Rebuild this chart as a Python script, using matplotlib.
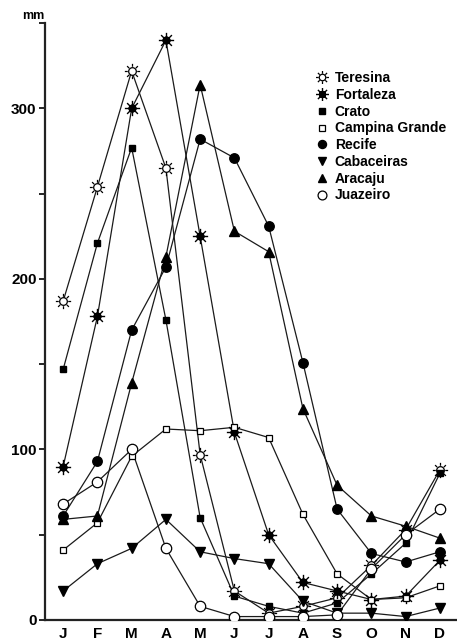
import numpy as np
import matplotlib
matplotlib.use("Agg")
import matplotlib.pyplot as plt
from matplotlib.path import Path
from matplotlib.lines import Line2D

plt.rcParams['font.family'] = ['Liberation Sans', 'DejaVu Sans']

# monthly rainfall (mm)
months = ['J', 'F', 'M', 'A', 'M', 'J', 'J', 'A', 'S', 'O', 'N', 'D']
teresina = [187, 254, 322, 265, 97, 17, 4, 8, 13, 32, 53, 88]
fortaleza = [90, 178, 300, 340, 225, 110, 50, 22, 17, 12, 14, 35]
crato = [147, 221, 277, 176, 60, 14, 8, 4, 10, 27, 45, 86]
campina = [41, 57, 96, 112, 111, 113, 107, 62, 27, 12, 13, 20]
recife = [61, 93, 170, 207, 282, 271, 231, 151, 65, 39, 34, 40]
cabaceiras = [17, 33, 42, 59, 40, 36, 33, 11, 4, 4, 2, 7]
aracaju = [59, 61, 139, 213, 314, 228, 216, 124, 79, 61, 55, 48]
juazeiro = [68, 81, 100, 42, 8, 2, 2, 2, 3, 30, 50, 65]


def rays(r0, r1, n=8):
    segs = []
    for a in np.linspace(0, 2 * np.pi, n, endpoint=False):
        segs.append(Path([(r0 * np.cos(a), r0 * np.sin(a)),
                          (r1 * np.cos(a), r1 * np.sin(a))],
                         [Path.MOVETO, Path.LINETO]))
    return segs


sun = Path.make_compound_path(Path.circle((0, 0), 0.5), *rays(0.62, 1.0))
star = Path.make_compound_path(Path.circle((0, 0), 0.45), *rays(0.0, 1.0))

series = [
    ("Teresina", teresina, dict(marker=sun, ms=11, mfc='white', mec='black', mew=0.9)),
    ("Fortaleza", fortaleza, dict(marker=star, ms=11, mfc='black', mec='black', mew=1.0)),
    ("Crato", crato, dict(marker='s', ms=4.5, mfc='black', mec='black')),
    ("Campina Grande", campina, dict(marker='s', ms=5, mfc='white', mec='black', mew=0.9)),
    ("Recife", recife, dict(marker='o', ms=6.8, mfc='black', mec='black')),
    ("Cabaceiras", cabaceiras, dict(marker='v', ms=7, mfc='black', mec='black')),
    ("Aracaju", aracaju, dict(marker='^', ms=7, mfc='black', mec='black')),
    ("Juazeiro", juazeiro, dict(marker='o', ms=7.5, mfc='white', mec='black', mew=0.9)),
]

fig = plt.figure(figsize=(4.57, 6.41), dpi=100)
ax = fig.add_axes([0.0985, 0.0328, 0.9015, 0.931])
x = np.arange(len(months))

for name, vals, st in series:
    ax.plot(x, vals, color='#1a1a1a', lw=0.9, zorder=2)
for name, vals, st in series:
    ax.plot(x, vals, ls='none', zorder=3, **st)

ax.set_xlim(-0.53, 11.5)
ax.set_ylim(0, 350)
for s in ['top', 'right']:
    ax.spines[s].set_visible(False)
for s in ['left', 'bottom']:
    ax.spines[s].set_linewidth(1.6)
    ax.spines[s].set_color('#222222')

ax.set_xticks(x)
ax.set_xticklabels(months, fontsize=11, fontweight='bold')
ax.tick_params(axis='x', length=0, pad=5)
ax.set_yticks([0, 100, 200, 300])
ax.set_yticks([50, 150, 250, 350], minor=True)
ax.set_yticklabels(['0', '100', '200', '300'], fontsize=11, fontweight='bold')
ax.tick_params(axis='y', which='both', direction='out', length=4, width=1.2, pad=2)

fig.text(0.098, 0.975, "mm", ha='right', va='center', fontsize=9, fontweight='bold')

handles = [Line2D([], [], ls='none', **st) for name, vals, st in series]
labels = [name for name, vals, st in series]
fig.legend(handles, labels, loc='upper left', bbox_to_anchor=(0.678, 0.9),
           frameon=False, handlelength=0.8, handletextpad=0.5, labelspacing=0.2,
           borderpad=0, markerscale=0.85, prop=dict(size=10, weight='bold'))

fig.savefig("out.png", dpi=100)
